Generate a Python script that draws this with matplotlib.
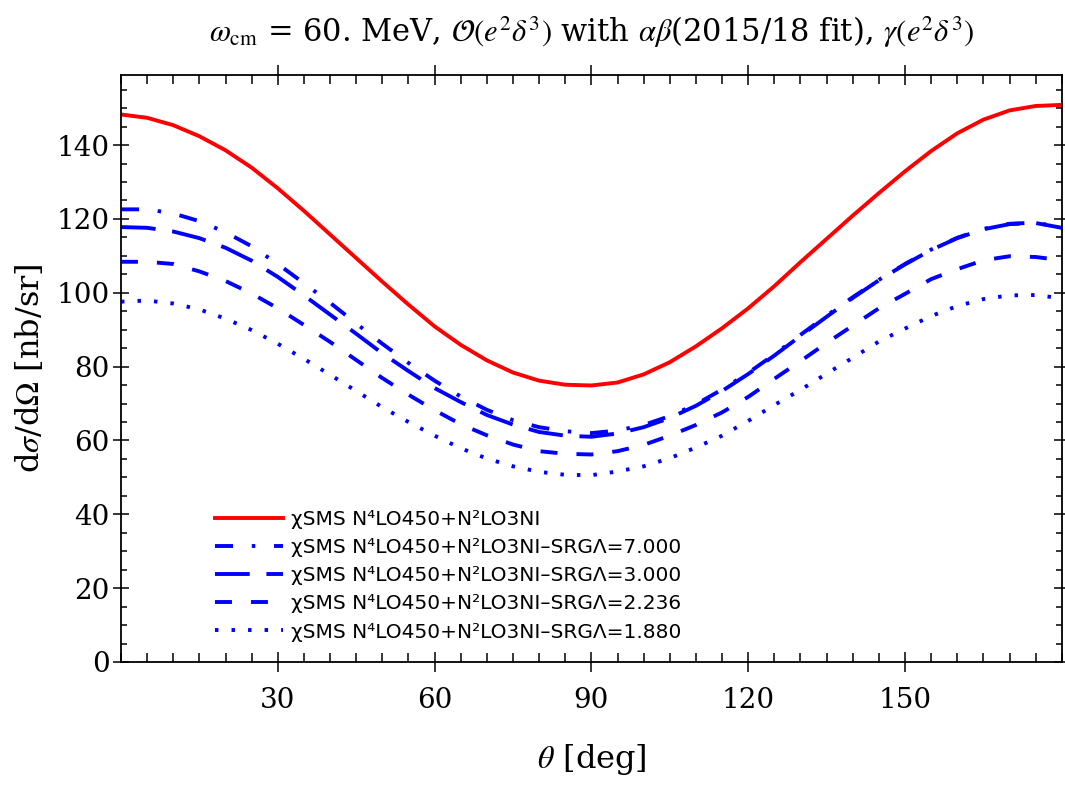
import matplotlib
matplotlib.use("Agg")
import matplotlib.pyplot as plt
from matplotlib.ticker import MultipleLocator, FixedLocator

plt.rcParams['font.family'] = ['DejaVu Serif']
plt.rcParams['mathtext.fontset'] = 'stix'
plt.rcParams['lines.scale_dashes'] = False

# angles in degrees (every 5 deg)
theta = [0, 5, 10, 15, 20, 25, 30, 35, 40, 45, 50, 55, 60, 65, 70, 75, 80, 85, 90,
         95, 100, 105, 110, 115, 120, 125, 130, 135, 140, 145, 150, 155, 160, 165, 170, 175, 180]

# cross sections [nb/sr]
xs_full = [148.3, 147.4, 145.4, 142.4, 138.6, 133.9, 128.3, 122.2, 115.8, 109.4, 103.0, 96.8,
           90.9, 85.9, 81.7, 78.4, 76.2, 75.1, 74.9, 75.7, 77.9, 81.2, 85.5, 90.4, 95.8,
           101.8, 108.3, 114.6, 120.9, 127.0, 132.9, 138.4, 143.2, 146.9, 149.4, 150.6, 150.9]
xs_srg7000 = [122.6, 122.6, 121.5, 119.4, 116.4, 112.6, 107.8, 102.6, 97.3, 91.7, 86.2, 81.0,
              76.2, 71.9, 68.3, 65.5, 63.6, 62.5, 62.0, 62.7, 64.2, 66.6, 69.8, 73.8, 78.3,
              83.3, 88.6, 93.8, 98.8, 103.5, 107.8, 111.7, 114.9, 117.3, 118.7, 119.0, 117.7]
xs_srg3000 = [117.8, 117.6, 116.6, 114.8, 112.2, 108.7, 104.3, 99.3, 94.1, 88.9, 83.6, 78.8,
              74.2, 70.4, 66.9, 64.3, 62.3, 61.3, 61.0, 61.9, 63.6, 66.1, 69.4, 73.4, 78.0,
              83.0, 88.3, 93.5, 98.6, 103.4, 107.7, 111.6, 114.8, 117.2, 118.6, 118.9, 117.6]
xs_srg2236 = [108.4, 108.4, 107.8, 105.8, 103.2, 99.8, 95.8, 91.3, 86.7, 81.8, 76.9, 72.4,
              68.2, 64.4, 61.4, 58.9, 57.1, 56.4, 56.2, 57.1, 58.8, 61.3, 64.2, 67.6, 71.8,
              76.7, 81.5, 86.4, 91.1, 95.8, 99.7, 103.7, 106.4, 108.8, 109.9, 109.7, 108.8]
xs_srg1880 = [97.6, 97.9, 97.1, 95.5, 93.0, 89.9, 86.2, 82.1, 77.8, 73.4, 69.0, 65.0,
              61.3, 57.9, 55.1, 53.0, 51.5, 50.7, 50.6, 51.6, 53.0, 55.2, 58.1, 61.3, 65.3,
              69.6, 73.7, 78.1, 82.4, 86.8, 90.3, 93.7, 96.4, 98.3, 99.3, 99.4, 98.5]

labels = ["χSMS N⁴LO450+N²LO3NI",
          "χSMS N⁴LO450+N²LO3NI–SRGΛ=7.000",
          "χSMS N⁴LO450+N²LO3NI–SRGΛ=3.000",
          "χSMS N⁴LO450+N²LO3NI–SRGΛ=2.236",
          "χSMS N⁴LO450+N²LO3NI–SRGΛ=1.880"]

fig = plt.figure(figsize=(10.65, 7.85), dpi=100)
ax = fig.add_axes([0.1136, 0.1567, 0.8834, 0.7478])

lw = 2.8
ax.plot(theta, xs_full, color='red', lw=lw, solid_joinstyle='round', label=labels[0])
ax.plot(theta, xs_srg7000, color='blue', lw=lw, dashes=(13, 13.5, 2.5, 13.5), label=labels[1])
ax.plot(theta, xs_srg3000, color='blue', lw=lw, dashes=(25, 12), label=labels[2])
ax.plot(theta, xs_srg2236, color='blue', lw=lw, dashes=(12.2, 13.7), label=labels[3])
ax.plot(theta, xs_srg1880, color='blue', lw=lw, dashes=(2.5, 9.4), label=labels[4])

ax.set_xlim(0, 180)
ax.set_ylim(0, 159)
ax.xaxis.set_major_locator(FixedLocator([30, 60, 90, 120, 150]))
ax.xaxis.set_minor_locator(MultipleLocator(5))
ax.yaxis.set_major_locator(MultipleLocator(20))
ax.yaxis.set_minor_locator(MultipleLocator(5))
ax.tick_params(axis='x', which='major', direction='inout', length=14, width=1.1,
               top=True, labelsize=20, pad=11)
ax.tick_params(axis='x', which='minor', direction='in', length=6.5, width=1.1, top=True)
ax.tick_params(axis='y', which='major', direction='inout', length=12, width=1.1,
               right=True, labelsize=20, pad=2)
ax.tick_params(axis='y', which='minor', direction='in', length=4.5, width=1.1, right=True)
for s in ax.spines.values():
    s.set_linewidth(1.3)

ax.set_xlabel(r'$\theta$ [deg]', fontsize=23, labelpad=20)
ax.set_ylabel(r'd$\sigma$/d$\Omega$ [nb/sr]', fontsize=23, labelpad=8)
ax.set_title(r'$\omega_{\rm cm}$ = 60. MeV, $\mathcal{O}(e^2\delta^3)$ with $\alpha\beta$(2015/18 fit), '
             r'$\gamma(e^2\delta^3)$', fontsize=22, pad=24)

leg = ax.legend(loc='lower left', bbox_to_anchor=(0.081, 0.004), frameon=False,
                handlelength=3.35, handletextpad=0.4, labelspacing=0.45,
                prop={'family': 'DejaVu Sans', 'size': 14.5})

fig.savefig('out.png', dpi=100)
